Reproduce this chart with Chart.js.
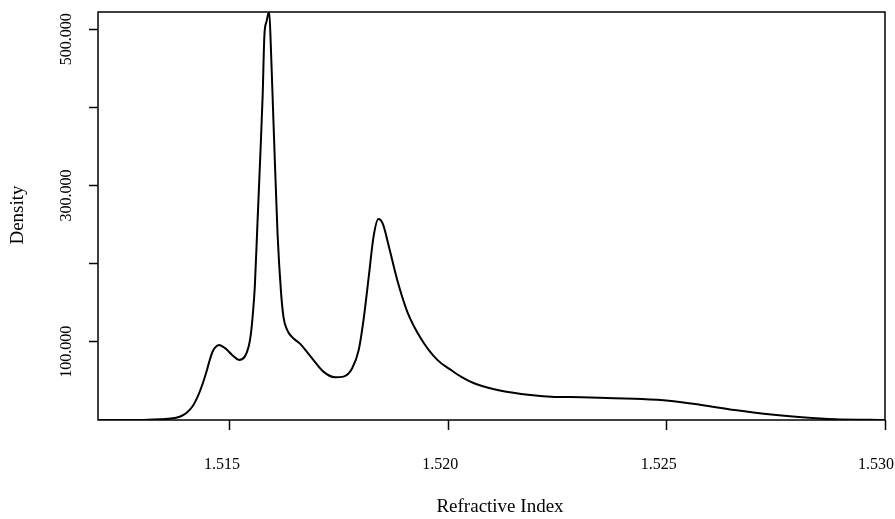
<!DOCTYPE html>
<html>
<head>
<meta charset="utf-8">
<script src="https://cdn.jsdelivr.net/npm/chart.js@4/dist/chart.umd.min.js"></script>
<style>
  html, body { margin: 0; padding: 0; background: #fff; }
  #wrap { width: 895px; height: 519px; position: relative; }
</style>
</head>
<body>
<div id="wrap"><canvas id="chart"></canvas></div>
<script>
// refractive index (x) and estimated density (y)
const refIndex = [
  1.51198, 1.51293, 1.51339, 1.51369, 1.51385, 1.51401, 1.51415, 1.51426,
  1.51438, 1.51447, 1.51454, 1.51460, 1.51466, 1.51475, 1.51489, 1.51505,
  1.51521, 1.51534, 1.51543, 1.51548, 1.51552, 1.51557, 1.51563, 1.51569,
  1.51575, 1.51579, 1.51584, 1.51590, 1.51594, 1.51600, 1.51609, 1.51617,
  1.51623, 1.51631, 1.51642, 1.51661, 1.51676, 1.51691, 1.51714, 1.51741,
  1.51760, 1.51780, 1.51795, 1.51806, 1.51818, 1.51829, 1.51840, 1.51850,
  1.51864, 1.51883, 1.51906, 1.51937, 1.51975, 1.52006, 1.52029, 1.52059,
  1.52105, 1.52167, 1.52236, 1.52305, 1.52380, 1.52443, 1.52505, 1.52580,
  1.52656, 1.52734, 1.52810, 1.52886, 1.52964, 1.53000
];
const density = [
  0, 0, 0.9, 2.2, 4.2, 9.4, 17.9, 29.5,
  47, 63, 77, 87, 92.5, 96, 91.9, 83.3,
  76.9, 81.1, 93.9, 110, 132, 170, 250, 330,
  415, 492, 510, 522.7, 474, 378, 239.6, 164,
  130.7, 115.3, 106.3, 97.4, 87.5, 76.9, 61.9, 54.7,
  55.5, 66.2, 89.7, 128.1, 183.6, 234.9, 257.2, 251.1,
  222, 179.4, 138.8, 104.7, 76.9, 64.1, 55.5, 47,
  39.3, 33.3, 29.9, 29.1, 27.8, 26.9, 24.7, 19.2,
  12.8, 7.3, 3.5, 0.9, 0.2, 0
];

const xTicks = [1.515, 1.520, 1.525, 1.530];
const xTickLabels = ['1.515', '1.520', '1.525', '1.530'];
const yTicks = [100, 200, 300, 400, 500];
const yTickLabels = ['100.000', '', '300.000', '', '500.000'];

const serif = '"Liberation Serif", "DejaVu Serif", serif';

const points = refIndex.map((x, i) => ({ x, y: density[i] }));

const ctx = document.getElementById('chart').getContext('2d');

new Chart(ctx, {
  type: 'scatter',
  data: {
    datasets: [{
      data: points,
      showLine: true,
      borderColor: '#000',
      borderWidth: 2,
      pointRadius: 0,
      cubicInterpolationMode: 'monotone',
      fill: false,
    }],
  },
  options: {
    responsive: true,
    maintainAspectRatio: false,
    animation: false,
    events: [],
    layout: { padding: { left: 0, right: 10, top: 12, bottom: 0 } },
    plugins: {
      legend: { display: false },
      tooltip: { enabled: false },
    },
    scales: {
      x: {
        type: 'linear',
        min: 1.51198,
        max: 1.530,
        afterBuildTicks: (scale) => { scale.ticks = xTicks.map(v => ({ value: v })); },
        afterFit: (scale) => { scale.height = 99; },
        grid: { drawOnChartArea: false, drawTicks: true, tickLength: 10, tickColor: '#000', tickWidth: 1.5 },
        border: { display: false },
        ticks: { display: false },
      },
      y: {
        type: 'linear',
        min: 0,
        max: 522,
        afterBuildTicks: (scale) => { scale.ticks = yTicks.map(v => ({ value: v })); },
        afterFit: (scale) => { scale.width = 98; },
        grid: { drawOnChartArea: false, drawTicks: true, tickLength: 9, tickColor: '#000', tickWidth: 1.5 },
        border: { display: false },
        ticks: { display: false },
      },
    },
  },
  plugins: [{
    id: 'rStyle',
    afterDraw(chart) {
      const { ctx, chartArea } = chart;
      const xs = chart.scales.x;
      const ys = chart.scales.y;
      ctx.save();

      // plot frame
      ctx.strokeStyle = '#000';
      ctx.lineWidth = 1.5;
      ctx.strokeRect(chartArea.left, chartArea.top,
        chartArea.right - chartArea.left, chartArea.bottom - chartArea.top);

      ctx.fillStyle = '#000';
      ctx.font = '16px ' + serif;
      ctx.textBaseline = 'middle';

      // x tick labels
      xTicks.forEach((v, i) => {
        const px = xs.getPixelForValue(v) - 8;
        const w = ctx.measureText(xTickLabels[i]).width;
        ctx.textAlign = 'center';
        const cx = Math.min(px, chart.width - 1 - w / 2);
        ctx.fillText(xTickLabels[i], cx, 465);
      });

      // y tick labels, rotated
      yTicks.forEach((v, i) => {
        if (!yTickLabels[i]) return;
        const py = ys.getPixelForValue(v) + 10;
        ctx.save();
        ctx.translate(67, py);
        ctx.rotate(-Math.PI / 2);
        ctx.textAlign = 'center';
        ctx.fillText(yTickLabels[i], 0, 0);
        ctx.restore();
      });

      // axis titles
      ctx.font = '19px ' + serif;
      ctx.textAlign = 'center';
      ctx.fillText('Refractive Index', 500, 507);

      ctx.save();
      ctx.translate(18, 215);
      ctx.rotate(-Math.PI / 2);
      ctx.fillText('Density', 0, 0);
      ctx.restore();

      ctx.restore();
    },
  }],
});
</script>
</body>
</html>
